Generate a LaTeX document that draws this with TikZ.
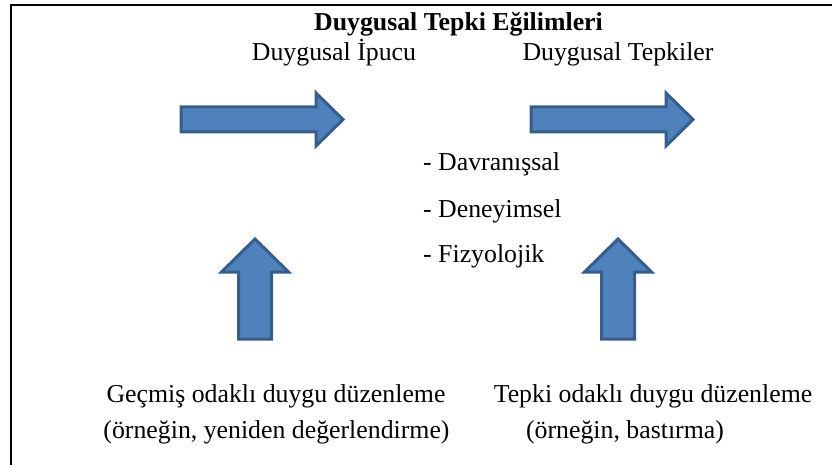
\documentclass[tikz,border=0pt]{standalone}
\usepackage{fontspec}
\setmainfont{Liberation Serif}
\usetikzlibrary{positioning}

\definecolor{arrowfill}{HTML}{4F81BD}
\definecolor{arrowline}{HTML}{385D8A}

\begin{document}
\begin{tikzpicture}[x=1pt, y=-1pt,
    every node/.style = {inner sep=0pt, anchor=base,
      font=\fontsize{25.8}{31}\selectfont},
    blockarrow/.style = {fill=arrowfill, draw=arrowline,
      line width=3pt, line join=miter},
    frameline/.style = {line width=2.5pt}]
  \useasboundingbox (0,0) rectangle (832,465);
  % frame
  \draw[frameline] (832,5) -- (11,5) -- (11,465);
  % headings
  \node (title) at (458.5,31) {\bfseries Duygusal Tepki Eğilimleri};
  \node (cue)   at (334,61)   {Duygusal \.{I}pucu};
  \node (resp)  at (618,61)   {Duygusal Tepkiler};
  % response list
  \node[anchor=base west] (beh)  at (423,171) {- Davranışsal};
  \node[anchor=base west] (exp)  at (423,217) {- Deneyimsel};
  \node[anchor=base west] (phys) at (423,262) {- Fizyolojik};
  % regulation strategies
  \node (antec)     at (276,402)   {Geçmiş odaklı duygu düzenleme};
  \node (antecEx)   at (276.5,438) {(örneğin, yeniden değerlendirme)};
  \node (respReg)   at (653,402)   {Tepki odaklı duygu düzenleme};
  \node (respRegEx) at (625,438)   {(örneğin, bastırma)};
  % block arrows
  \foreach \x in {181,531}
    \draw[blockarrow] (\x,107) -- ++(135,0) -- ++(0,-14) -- ++(27,26.5)
      -- ++(-27,26.5) -- ++(0,-14) -- ++(-135,0) -- cycle;
  \foreach \x in {255,618}
    \draw[blockarrow] (\x-16.5,339) -- (\x-16.5,272) -- (\x-33.5,272)
      -- (\x,239) -- (\x+33.5,272) -- (\x+16.5,272) -- (\x+16.5,339) -- cycle;
\end{tikzpicture}
\end{document}
